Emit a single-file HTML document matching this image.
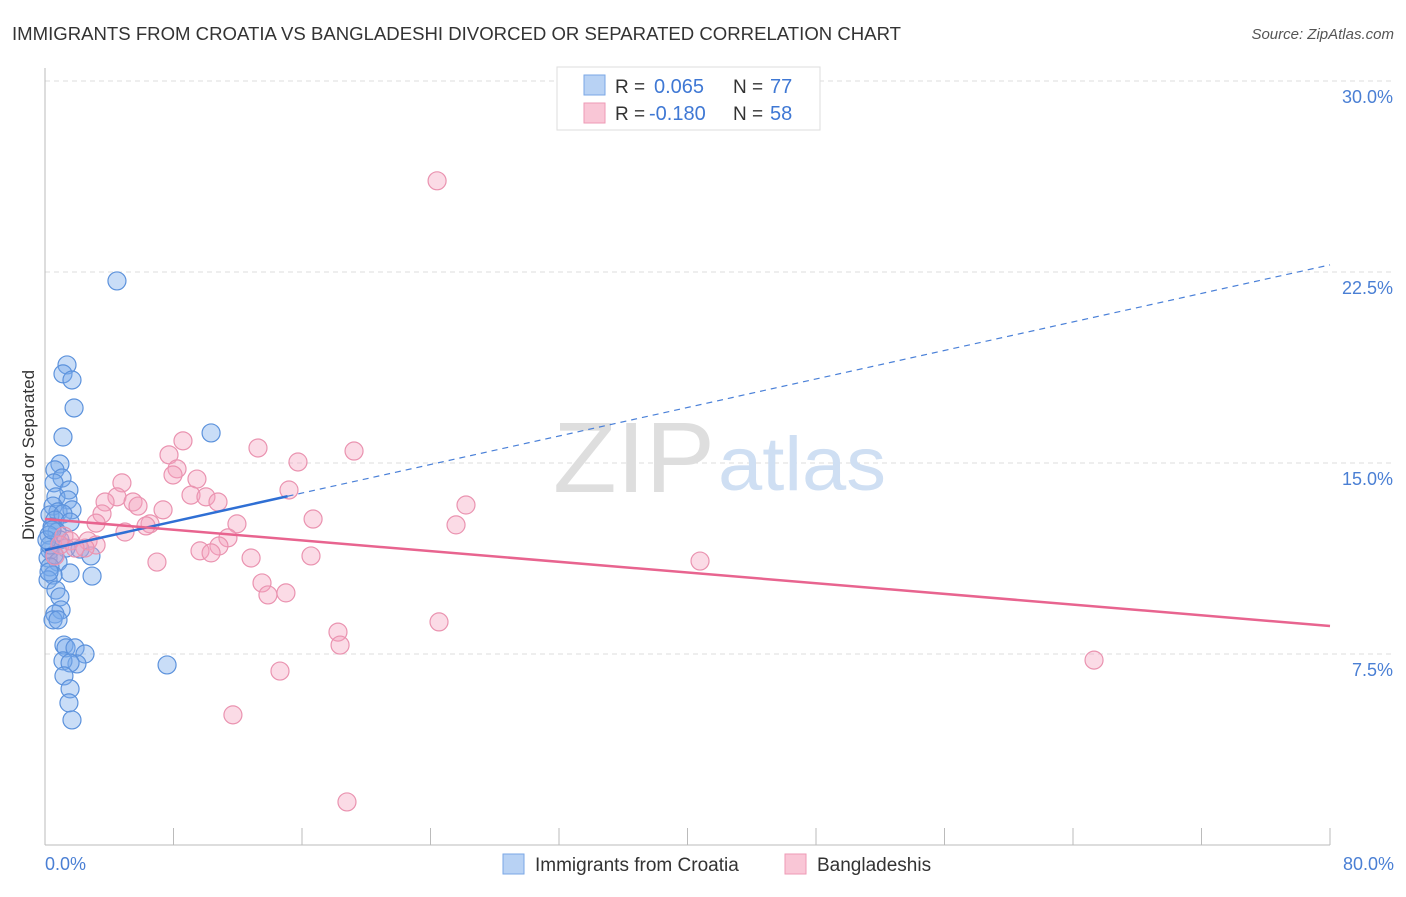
<!DOCTYPE html>
<html><head><meta charset="utf-8"><style>
body{margin:0;background:#fff;font-family:"Liberation Sans",sans-serif}
svg text{font-family:"Liberation Sans",sans-serif}
</style></head><body>
<svg id="chart" width="1406" height="892" viewBox="0 0 1406 892">
<text x="12" y="40" font-size="18" fill="#333" textLength="889" lengthAdjust="spacingAndGlyphs">IMMIGRANTS FROM CROATIA VS BANGLADESHI DIVORCED OR SEPARATED CORRELATION CHART</text>
<text x="1394" y="39" font-size="15" fill="#555" font-style="italic" text-anchor="end">Source: ZipAtlas.com</text>
<g id="grid"></g>
<text x="553" y="492" font-size="100" fill="#dedede" font-family="Liberation Serif" textLength="162" lengthAdjust="spacingAndGlyphs">ZIP</text>
<text x="718" y="490" font-size="76" fill="#cfdff3" textLength="168" lengthAdjust="spacingAndGlyphs">atlas</text>
<line x1="45" y1="68" x2="45" y2="845" stroke="#bbb"/>
<line x1="45" y1="845" x2="1330" y2="845" stroke="#bbb"/>
<text transform="translate(34,455) rotate(-90)" font-size="17" fill="#333" text-anchor="middle">Divorced or Separated</text>
<text x="45" y="870" font-size="18" fill="#4a7fd4">0.0%</text>
<text x="1394" y="870" font-size="18" fill="#4a7fd4" text-anchor="end">80.0%</text>
<g id="marks"></g>
<g>
<rect x="557" y="67" width="263" height="63" fill="#fff" stroke="#ddd"/>
<rect x="584" y="75" width="21" height="20" fill="#b8d2f4" stroke="#7aa7e6"/>
<rect x="584" y="103" width="21" height="20" fill="#f9c6d6" stroke="#ee9ab5"/>
<text x="615" y="93" font-size="19" fill="#333">R = </text><text x="654" y="93" font-size="20" fill="#3f78d4">0.065</text>
<text x="733" y="93" font-size="19" fill="#333">N = </text><text x="770" y="93" font-size="20" fill="#3f78d4">77</text>
<text x="615" y="120" font-size="19" fill="#333">R = </text><text x="649" y="120" font-size="20" fill="#3f78d4">-0.180</text>
<text x="733" y="120" font-size="19" fill="#333">N = </text><text x="770" y="120" font-size="20" fill="#3f78d4">58</text>
</g>
<g>
<rect x="503" y="854" width="21" height="20" fill="#b8d2f4" stroke="#7aa7e6"/>
<text x="535" y="871" font-size="19" fill="#333">Immigrants from Croatia</text>
<rect x="785" y="854" width="21" height="20" fill="#f9c6d6" stroke="#ee9ab5"/>
<text x="817" y="871" font-size="19" fill="#333">Bangladeshis</text>
</g>
</svg>
<script>
const yTicks=[7.5,15,22.5,30];
const yTickLabels=["7.5%","15.0%","22.5%","30.0%"];
const xTicks=[0,8,16,24,32,40,48,56,64,72,80];
const blueX=[4.48,1.37,1.12,1.68,1.81,1.12,10.34,0.93,0.62,1.06,0.56,1.49,0.68,1.43,0.50,0.81,1.68,0.31,1.12,0.62,1.56,0.44,0.75,0.25,0.93,1.31,0.31,0.56,2.18,2.86,0.19,0.81,1.56,0.31,0.50,2.93,0.19,0.68,0.93,1.00,0.62,0.50,0.81,1.18,1.31,1.87,2.49,1.99,1.12,1.56,7.60,1.18,1.56,1.49,1.68,0.31,0.25,0.12,0.44];
const blueY=[22.15,18.85,18.50,18.26,17.16,16.02,16.18,14.96,14.73,14.41,14.22,13.94,13.67,13.55,13.31,13.08,13.16,12.96,13.00,12.76,12.68,12.49,12.29,12.17,11.98,11.66,11.58,11.39,11.62,11.35,11.27,11.11,10.68,10.92,10.60,10.56,10.41,10.01,9.74,9.23,9.07,8.84,8.84,7.85,7.74,7.74,7.50,7.11,7.23,7.15,7.07,6.64,6.13,5.58,4.91,11.78,10.72,11.98,12.37];
const pinkX=[24.41,8.59,13.26,19.24,7.72,15.75,8.22,7.97,9.46,4.79,15.19,9.09,10.02,10.77,4.48,3.74,5.48,5.79,26.21,7.35,3.55,16.69,11.95,6.54,3.18,6.29,4.98,25.59,11.39,1.18,1.56,2.68,3.18,2.49,10.83,9.65,10.34,16.56,12.83,6.97,40.78,13.51,13.88,15.00,18.24,24.53,18.37,14.63,65.31,11.70,18.80,0.93,1.87,0.62];
const pinkY=[26.08,15.87,15.59,15.47,15.32,15.04,14.77,14.53,14.37,14.22,13.94,13.74,13.67,13.47,13.67,13.47,13.47,13.31,13.35,13.16,13.00,12.80,12.61,12.61,12.64,12.53,12.29,12.57,12.06,12.13,11.94,11.94,11.78,11.66,11.74,11.55,11.47,11.35,11.27,11.11,11.15,10.29,9.82,9.90,8.36,8.76,7.85,6.83,7.26,5.11,1.69,11.78,11.66,11.35];
const blueTrend=[11.58,22.78]; const blueSolidEnd=15.1;
const pinkTrend=[12.80,8.60];
const X=v=>45+v/80*1285, Y=v=>845-v/7.5*191;
const NS="http://www.w3.org/2000/svg";
function mk(t,a,p){const e=document.createElementNS(NS,t);for(const k in a)e.setAttribute(k,a[k]);p.appendChild(e);return e;}
const grid=document.getElementById('grid'), marks=document.getElementById('marks');
yTicks.forEach((t,i)=>{
 const l=mk('line',{x1:45,x2:1394,y1:Y(t),y2:Y(t),stroke:'#ddd','stroke-dasharray':'5,4'},grid);
 
 
 const tx=mk('text',{x:1393,y:Y(t)+22,'font-size':18,fill:'#4a7fd4','text-anchor':'end'},grid);
 tx.textContent=yTickLabels[i];
 
 
});
xTicks.forEach(t=>{
 const l=mk('line',{x1:X(t),x2:X(t),y1:828,y2:845,stroke:'#bbb'},grid);
 
 
});
blueX.forEach((v,i)=>{
 const c=mk('circle',{cx:X(v),cy:Y(blueY[i]),r:9,fill:'rgba(120,170,235,0.4)',stroke:'#5c92dc','stroke-width':1.2},marks);
 
 
});
pinkX.forEach((v,i)=>{
 const c=mk('circle',{cx:X(v),cy:Y(pinkY[i]),r:9,fill:'rgba(244,160,188,0.38)',stroke:'#ea93b0','stroke-width':1.2},marks);
 
 
});
const bAt=x=>blueTrend[0]+(blueTrend[1]-blueTrend[0])*x/80;
const b1=mk('line',{x1:X(0),y1:Y(bAt(0)),x2:X(blueSolidEnd),y2:Y(bAt(blueSolidEnd)),stroke:'#2f6fd4','stroke-width':2.5},marks);


const b2=mk('line',{x1:X(blueSolidEnd),y1:Y(bAt(blueSolidEnd)),x2:X(80),y2:Y(bAt(80)),stroke:'#4a80d8','stroke-width':1.2,'stroke-dasharray':'6,5'},marks);


const p1=mk('line',{x1:X(0),y1:Y(pinkTrend[0]),x2:X(80),y2:Y(pinkTrend[1]),stroke:'#e8648f','stroke-width':2.5},marks);


</script>
</body></html>
